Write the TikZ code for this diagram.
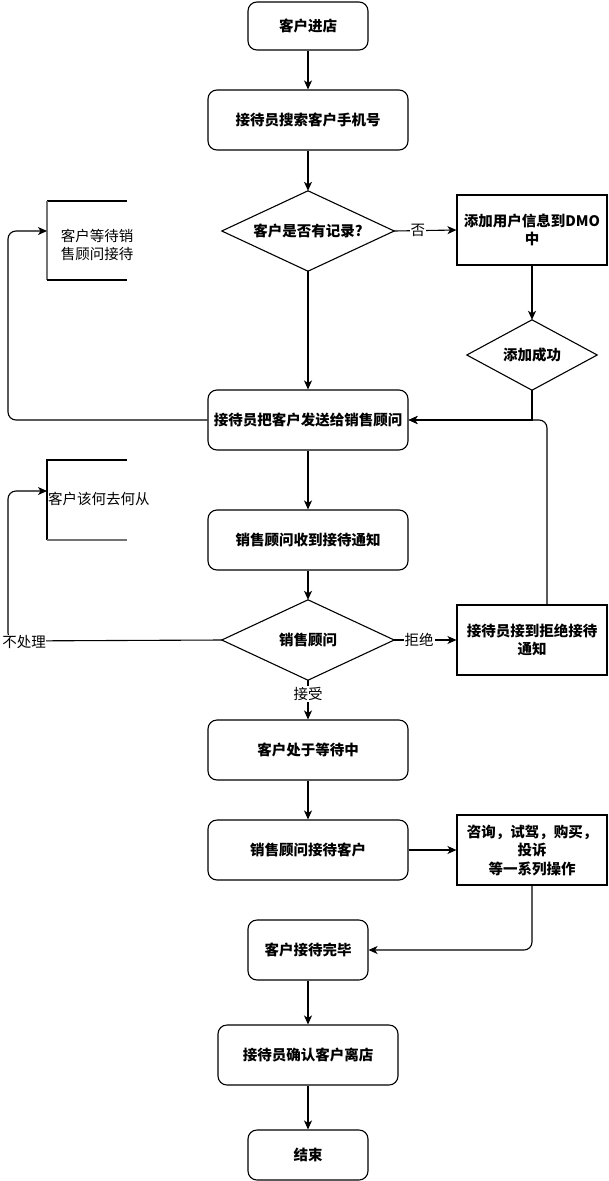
\documentclass[tikz,border=0pt]{standalone}
\usepackage{fontspec}
\setmainfont{Noto Sans CJK SC}
\usetikzlibrary{arrows.meta}
\tikzset{
  base/.style={inner sep=0pt, align=center, font=\bfseries\fontsize{14.5}{18.5}\selectfont},
  rbox/.style={base, draw, rounded corners=9pt, line width=1.1pt},
  sbox/.style={base, draw, line width=1.1pt},
  arr/.style={line width=1.1pt, -{Stealth[length=9pt,width=8pt,inset=2.5pt]}},
  lbl/.style={fill=white, inner sep=1pt, font=\fontsize{14.5}{18}\selectfont},
  note/.style={inner sep=0pt, align=left, font=\fontsize{14.5}{18}\selectfont}
}
\begin{document}
\begin{tikzpicture}[x=1pt,y=-1pt]
\useasboundingbox (0,0) rectangle (608,1181);
% nodes
\node[rbox, minimum width=120pt, minimum height=48pt] (start) at (308,26) {客户进店};
\node[rbox, minimum width=200pt, minimum height=60pt] (search) at (308,120) {接待员搜索客户手机号};
\node[base, minimum width=172pt, minimum height=80pt] (rec) at (308,231) {客户是否有记录?};
\node[sbox, minimum width=150pt, minimum height=70pt] (dmo) at (532,230) {添加用户信息到DMO\\中};
\node[base, minimum width=130pt, minimum height=70pt] (ok) at (532,355) {添加成功};
\node[rbox, minimum width=200pt, minimum height=60pt] (send) at (308,420) {接待员把客户发送给销售顾问};
\node[rbox, minimum width=200pt, minimum height=60pt] (recv) at (308,540) {销售顾问收到接待通知};
\node[base, minimum width=172pt, minimum height=80pt] (sales) at (308,640) {销售顾问};
\node[sbox, minimum width=150pt, minimum height=70pt] (reject) at (532,640) {接待员接到拒绝接待\\通知};
\node[rbox, minimum width=200pt, minimum height=60pt] (wait) at (308,750) {客户处于等待中};
\node[rbox, minimum width=200pt, minimum height=60pt] (serve) at (308,850) {销售顾问接待客户};
\node[sbox, minimum width=150pt, minimum height=70pt] (ops) at (532,850) {咨询，试驾，购买，\\投诉\\ 等一系列操作};
\node[rbox, minimum width=120pt, minimum height=60pt] (done) at (308,950) {客户接待完毕};
\node[rbox, minimum width=180pt, minimum height=60pt] (leave) at (308,1055) {接待员确认客户离店};
\node[rbox, minimum width=120pt, minimum height=50pt] (end) at (308,1155) {结束};
% diamonds
\draw[line width=1.1pt] (rec.north) -- (rec.east) -- (rec.south) -- (rec.west) -- cycle;
\draw[line width=1.1pt] (ok.north) -- (ok.east) -- (ok.south) -- (ok.west) -- cycle;
\draw[line width=1.1pt] (sales.north) -- (sales.east) -- (sales.south) -- (sales.west) -- cycle;
% annotations
\node[note] (ann1) at (97,245) {客户等待销\\售顾问接待};
\node[note, anchor=west] (ann2) at (48,499) {客户该何去何从};
\draw[line width=1.1pt] (127,201) -- (47,201);
\draw[line width=1.1pt, draw=black!55] (47,201) -- (47,280);
\draw[line width=1.1pt] (47,280) -- (127,280);
\draw[line width=1.1pt] (127,460) -- (47,460) -- (47,540);
\draw[line width=1.1pt, draw=black!55] (47,540) -- (127,540);
\coordinate (a1in) at (47,231);
\coordinate (a2in) at (47,491);
\coordinate (c1a) at (8,420);
\coordinate (c1b) at (8,231);
\coordinate (c2a) at (8,641);
\coordinate (c2b) at (8,491);
% connectors
\draw[arr] (start) -- (search);
\draw[arr] (search) -- (rec.north);
\draw[arr] (rec.east) -- node[lbl, pos=0.38]{否} (dmo.west);
\draw[arr] (dmo) -- (ok.north);
\draw[arr] (ok.south) |- (send.east);
\draw[arr, rounded corners=8pt] ([xshift=15pt]reject.north) |- (send.east);
\draw[arr] (rec.south) -- (send.north);
\draw[arr, rounded corners=8pt] (send.west) -- (c1a) -- (c1b) -- (a1in);
\draw[arr] (send) -- (recv);
\draw[arr] (recv) -- (sales.north);
\draw[arr] (sales.east) -- node[lbl, pos=0.4]{拒绝} (reject.west);
\draw[arr, rounded corners=8pt] (sales.west) -- (c2a) -- (c2b) -- (a2in);
\node[lbl, inner sep=0.5pt] at (24,642) {不处理};
\draw[arr] (sales.south) -- node[lbl, pos=0.35]{接受} (wait);
\draw[arr] (wait) -- (serve);
\draw[arr] (serve) -- (ops);
\draw[arr, rounded corners=8pt] (ops.south) |- (done.east);
\draw[arr] (done) -- (leave);
\draw[arr] (leave) -- (end);
\end{tikzpicture}
\end{document}
